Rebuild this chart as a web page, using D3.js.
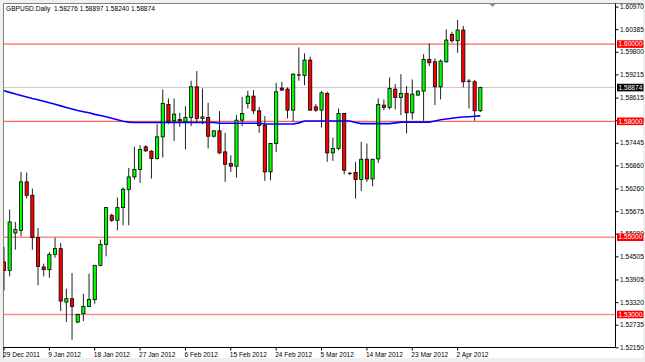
<!DOCTYPE html>
<html>
<head>
<meta charset="utf-8">
<script src="https://cdnjs.cloudflare.com/ajax/libs/d3/7.8.5/d3.min.js"></script>
<style>
    body { margin: 0; background: #f0f0f0; }
    svg { display: block; font-family: Tahoma, 'Liberation Sans', Arial, sans-serif; }
    .axis text { font-size: 6.6px; fill: #000; }
    .tag { font-size: 6.6px; fill: #fff; }
</style>
</head>
<body>
<svg width="645" height="362"></svg>
<script>
const symbol = 'GBPUSD.Daily'
const lastQuote = ['1.58276', '1.58897', '1.58240', '1.58874']

// daily bars, oldest first
const open = [1.54358, 1.54142, 1.55110, 1.55179, 1.56432, 1.56086, 1.54989, 1.54229, 1.54159, 1.54557,
    1.54704, 1.53321, 1.53408, 1.52803, 1.53019, 1.53209, 1.53382, 1.54272, 1.54816, 1.55568,
    1.55438, 1.55766, 1.56233, 1.56561, 1.56751, 1.57339, 1.57227, 1.57036, 1.57598, 1.58436,
    1.58013, 1.58047, 1.57987, 1.58099, 1.58894, 1.58073, 1.58099, 1.57615, 1.57754, 1.57209,
    1.56907, 1.56838, 1.58030, 1.58462, 1.58652, 1.58272, 1.57900, 1.56691, 1.57425, 1.58860,
    1.58834, 1.58289, 1.59205, 1.59188, 1.59585, 1.58376, 1.58289, 1.58721, 1.57183, 1.57296,
    1.58203, 1.56656, 1.56674, 1.56492, 1.57019, 1.56509, 1.57028, 1.58419, 1.58358, 1.58834,
    1.58618, 1.58721, 1.58220, 1.58678, 1.58782, 1.59603, 1.59542, 1.58894, 1.59542, 1.60251,
    1.60086, 1.60363, 1.59041, 1.59024, 1.58276]
const high = [1.54747, 1.55715, 1.55395, 1.56691, 1.56674, 1.56259, 1.55239, 1.54315, 1.54617, 1.54989,
    1.54851, 1.53667, 1.54073, 1.53019, 1.53537, 1.54056, 1.54280, 1.54937, 1.55784, 1.55611,
    1.56026, 1.56285, 1.56795, 1.57339, 1.57382, 1.57382, 1.57252, 1.57926, 1.58825, 1.58592,
    1.58592, 1.58220, 1.58393, 1.59050, 1.59300, 1.58851, 1.58479, 1.57771, 1.58263, 1.57702,
    1.57123, 1.58160, 1.58635, 1.58790, 1.58808, 1.58376, 1.58134, 1.57443, 1.58998, 1.59024,
    1.58877, 1.59240, 1.59914, 1.59758, 1.59672, 1.58445, 1.58790, 1.58764, 1.57581, 1.58332,
    1.58220, 1.56691, 1.56950, 1.57469, 1.57425, 1.57028, 1.58592, 1.58566, 1.59136, 1.58963,
    1.59222, 1.58911, 1.59084, 1.58808, 1.59741, 1.60017, 1.59628, 1.59603, 1.60380, 1.60320,
    1.60622, 1.60467, 1.59093, 1.59067, 1.58897]
const low = [1.53624, 1.53987, 1.54678, 1.55023, 1.56000, 1.54678, 1.53753, 1.53987, 1.53952, 1.54470,
    1.53088, 1.52803, 1.52345, 1.52777, 1.52829, 1.53192, 1.53278, 1.54246, 1.54505, 1.55395,
    1.55179, 1.55308, 1.55308, 1.56492, 1.56406, 1.57209, 1.56518, 1.57011, 1.57062, 1.57926,
    1.57494, 1.57857, 1.57270, 1.57875, 1.57961, 1.57926, 1.57296, 1.57581, 1.57149, 1.56432,
    1.56691, 1.56544, 1.57875, 1.58332, 1.58186, 1.57702, 1.56458, 1.56475, 1.57209, 1.58790,
    1.58073, 1.57987, 1.59050, 1.58937, 1.58272, 1.58246, 1.57840, 1.56950, 1.56976, 1.57252,
    1.56630, 1.56605, 1.56000, 1.56198, 1.56432, 1.56319, 1.56924, 1.58289, 1.58307, 1.58307,
    1.58160, 1.57685, 1.58047, 1.58669, 1.58013, 1.59430, 1.58419, 1.58566, 1.59516, 1.60035,
    1.59775, 1.58877, 1.58332, 1.58013, 1.58240]
const close = [1.54142, 1.55395, 1.55196, 1.56432, 1.56086, 1.54989, 1.54246, 1.54159, 1.54557, 1.54704,
    1.53347, 1.53408, 1.53209, 1.53002, 1.53209, 1.53390, 1.54272, 1.54816, 1.55766, 1.55438,
    1.55766, 1.56242, 1.56561, 1.56751, 1.57270, 1.57235, 1.57036, 1.57598, 1.58462, 1.57987,
    1.58186, 1.58013, 1.58099, 1.58894, 1.58073, 1.58116, 1.57615, 1.57754, 1.57183, 1.56890,
    1.56838, 1.58030, 1.58203, 1.58652, 1.58272, 1.57892, 1.56691, 1.57425, 1.58764, 1.58808,
    1.58289, 1.59222, 1.59196, 1.59585, 1.58289, 1.58289, 1.58739, 1.57183, 1.57296, 1.58203,
    1.56734, 1.56648, 1.56492, 1.57019, 1.56509, 1.57019, 1.58436, 1.58358, 1.58851, 1.58618,
    1.58721, 1.58220, 1.58704, 1.58782, 1.59603, 1.59516, 1.58894, 1.59559, 1.60104, 1.60086,
    1.60363, 1.59024, 1.59032, 1.58272, 1.58874]

// moving average (blue)
const ma = [1.5879, 1.5875, 1.5871, 1.5867, 1.5863, 1.5859, 1.5856, 1.5852, 1.5848, 1.5844,
    1.5840, 1.5836, 1.5832, 1.5828, 1.5825, 1.5822, 1.5818, 1.5815, 1.5812, 1.5808,
    1.5804, 1.5800, 1.5798, 1.5797, 1.5797, 1.5797, 1.5797, 1.5797, 1.5797, 1.5797,
    1.5797, 1.5797, 1.5797, 1.5797, 1.5797, 1.5797, 1.5797, 1.5797, 1.5795, 1.5795,
    1.5795, 1.5795, 1.5795, 1.5795, 1.5795, 1.5795, 1.5793, 1.5793, 1.5793, 1.5793,
    1.5793, 1.5793, 1.5796, 1.5801, 1.5801, 1.5801, 1.5801, 1.5801, 1.5801, 1.5801,
    1.5801, 1.5801, 1.5797, 1.5794, 1.5794, 1.5794, 1.5794, 1.5794, 1.5794, 1.5796,
    1.5798, 1.5798, 1.5798, 1.5798, 1.5798, 1.5798, 1.5801, 1.5804, 1.5806, 1.5808,
    1.5810, 1.5811, 1.5812, 1.5813, 1.5814]

const dateLabels = ['29 Dec 2011', '9 Jan 2012', '18 Jan 2012', '27 Jan 2012', '6 Feb 2012', '15 Feb 2012',
    '24 Feb 2012', '5 Mar 2012', '14 Mar 2012', '23 Mar 2012', '2 Apr 2012']
const barsPerLabel = 8
const priceTicks = [1.60970, 1.60385, 1.59800, 1.59215, 1.58615, 1.58030, 1.57445, 1.56860,
    1.56260, 1.55675, 1.55090, 1.54505, 1.53905, 1.53320, 1.52735, 1.52150]
const levels = [1.60000, 1.58000, 1.55000, 1.53000]
const bid = 1.58874

const render = () => {
    const svg = d3.select('svg');
    const width = +svg.attr('width');
    const height = +svg.attr('height');
    const frame = { left: 3.5, top: 3.5, right: 615.5, bottom: 347.5 };
    const fmt = d3.format('.5f');

    const xScale = d3.scaleLinear()
        .domain([0, open.length - 1])
        .range([4, 480.3]);
    const yScale = d3.scaleLinear()
        .domain([1.5215, 1.6097])
        .range([347.3, 6.6]);

    // window chrome
    svg.append('rect').attr('width', width).attr('height', height).attr('fill', '#f0f0f0');
    svg.append('rect').attr('x', 3).attr('y', 3).attr('width', 640).attr('height', 355).attr('fill', '#fff');
    svg.append('path')
        .attr('d', `M${frame.left},${height - 4}V${frame.top}H643`)
        .attr('fill', 'none').attr('stroke', '#808080');

    svg.append('clipPath').attr('id', 'plot')
        .append('rect')
            .attr('x', frame.left).attr('y', frame.top)
            .attr('width', frame.right - frame.left).attr('height', frame.bottom - frame.top);
    const g = svg.append('g').attr('clip-path', 'url(#plot)');

    // horizontal levels
    g.selectAll('.level').data(levels)
        .enter().append('line')
            .attr('class', 'level')
            .attr('x1', frame.left).attr('x2', frame.right)
            .attr('y1', d => yScale(d)).attr('y2', d => yScale(d))
            .attr('stroke', (d, i) => i < 2 ? '#ff3c3c' : '#ff8a8a')
            .attr('stroke-width', (d, i) => i < 2 ? 1 : 1.6);
    g.append('line')
        .attr('x1', frame.left).attr('x2', frame.right)
        .attr('y1', yScale(bid)).attr('y2', yScale(bid))
        .attr('stroke', '#c8c8c8');

    // candles
    const bars = d3.range(open.length);
    const candle = g.selectAll('.candle').data(bars)
        .enter().append('g').attr('class', 'candle');
    candle.append('line')
        .attr('x1', i => xScale(i)).attr('x2', i => xScale(i))
        .attr('y1', i => yScale(high[i])).attr('y2', i => yScale(low[i]))
        .attr('stroke', '#202020');
    candle.append('rect')
        .attr('x', i => xScale(i) - 1.6)
        .attr('width', 3.2)
        .attr('y', i => yScale(Math.max(open[i], close[i])))
        .attr('height', i => Math.max(Math.abs(yScale(open[i]) - yScale(close[i])), 0.3))
        .attr('fill', i => close[i] >= open[i] ? '#00ff00' : '#ff0000')
        .attr('stroke', '#000')
        .attr('stroke-width', 0.8);

    // moving average
    g.append('path')
        .datum(bars)
        .attr('d', d3.line().x(i => xScale(i)).y(i => yScale(ma[i])))
        .attr('fill', 'none')
        .attr('stroke', '#0000ff')
        .attr('stroke-width', 1.6);

    // frame lines
    svg.append('path')
        .attr('d', `M${frame.left},${frame.bottom}H${frame.right}V${frame.top}`)
        .attr('fill', 'none').attr('stroke', '#000');

    // price axis
    const yAxis = d3.axisRight(yScale)
        .tickValues(priceTicks)
        .tickSize(3)
        .tickFormat(fmt);
    const ya = svg.append('g').attr('class', 'axis')
        .attr('transform', `translate(${frame.right},0)`)
        .call(yAxis);
    ya.select('.domain').remove();
    ya.selectAll('line').attr('stroke', '#000');
    ya.selectAll('text').attr('x', 4.5);

    // date axis
    const xAxis = d3.axisBottom(xScale)
        .tickValues(dateLabels.map((d, i) => i * barsPerLabel))
        .tickSize(3)
        .tickFormat((d, i) => dateLabels[i]);
    const xa = svg.append('g').attr('class', 'axis')
        .attr('transform', `translate(0,${frame.bottom})`)
        .call(xAxis);
    xa.select('.domain').remove();
    xa.selectAll('line').attr('stroke', '#000').attr('x1', -0.5).attr('x2', -0.5);
    xa.selectAll('text')
        .attr('text-anchor', 'start')
        .attr('x', -1.5)
        .attr('y', 9)
        .attr('dy', 0);

    // price tags on the axis
    const tags = levels.map(v => ({ v, fill: '#ff0000' })).concat([{ v: bid, fill: '#000' }]);
    const tag = svg.selectAll('.pricetag').data(tags)
        .enter().append('g').attr('class', 'pricetag')
        .attr('transform', d => `translate(617,${yScale(d.v)})`);
    tag.append('rect')
        .attr('y', -3.8).attr('width', 26.5).attr('height', 7.6)
        .attr('fill', d => d.fill);
    tag.append('text')
        .attr('class', 'tag')
        .attr('x', 1.5).attr('dy', '0.34em')
        .text(d => fmt(d.v));

    // chart shift marker
    svg.append('path')
        .attr('d', 'M489,3.5H496L492.5,7Z')
        .attr('fill', '#909090');

    svg.append('text')
        .text(`${symbol}  ${lastQuote.join(' ')}`)
        .attr('x', 6)
        .attr('y', 11.3)
        .attr('font-size', '6.6px')
        .attr('fill', '#000')
        .style('white-space', 'pre');
}

render();
</script>
</body>
</html>
